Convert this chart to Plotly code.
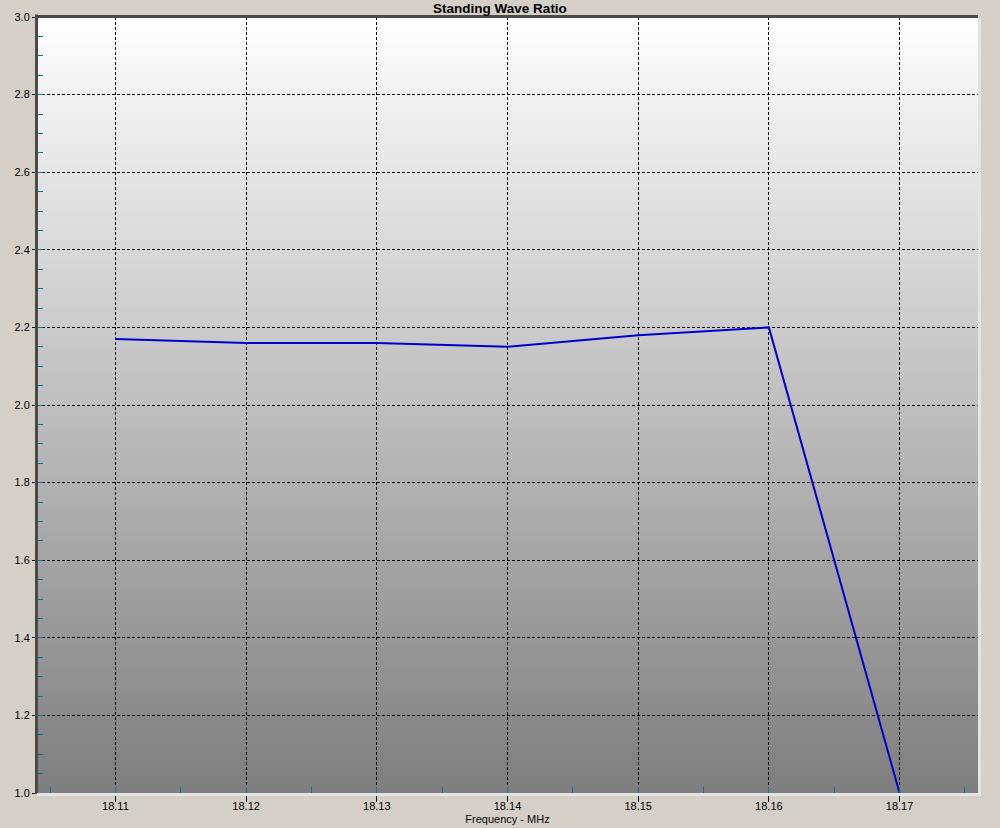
import base64, struct, zlib
import plotly.graph_objects as go

# Data
freq_mhz = [18.11, 18.12, 18.13, 18.14, 18.15, 18.16, 18.17]
swr = [2.17, 2.16, 2.16, 2.15, 2.18, 2.20, 1.00]
x_ticks = [18.11, 18.12, 18.13, 18.14, 18.15, 18.16, 18.17]
x_ticklabels = ["18.11", "18.12", "18.13", "18.14", "18.15", "18.16", "18.17"]
y_ticks = [1.0, 1.2, 1.4, 1.6, 1.8, 2.0, 2.2, 2.4, 2.6, 2.8, 3.0]
y_ticklabels = ["1.0", "1.2", "1.4", "1.6", "1.8", "2.0", "2.2", "2.4", "2.6", "2.8", "3.0"]


def gradient_png(h=256, top=255, bottom=126):
    rows = b""
    for i in range(h):
        v = round(top + (bottom - top) * i / (h - 1))
        rows += b"\x00" + bytes([v, v, v])
    def chunk(t, d):
        c = struct.pack(">I", len(d)) + t + d
        return c + struct.pack(">I", zlib.crc32(t + d) & 0xffffffff)
    png = b"\x89PNG\r\n\x1a\n"
    png += chunk(b"IHDR", struct.pack(">IIBBBBB", 1, h, 8, 2, 0, 0, 0))
    png += chunk(b"IDAT", zlib.compress(rows))
    png += chunk(b"IEND", b"")
    return "data:image/png;base64," + base64.b64encode(png).decode()


W, H = 1000, 828
L, R, T, B = 37, 22, 17, 35
pw, ph = W - L - R, H - T - B

def px(dx):
    return dx / pw

def py(dy):
    return dy / ph

fig = go.Figure()
fig.add_trace(go.Scatter(x=freq_mhz, y=swr, mode="lines",
                         line=dict(color="#0000CC", width=2), hoverinfo="skip"))

font = dict(family="Liberation Sans, Arial, sans-serif", size=11, color="#000000")

fig.update_layout(
    width=W, height=H,
    margin=dict(l=L, r=R, t=T, b=B, pad=0, autoexpand=False),
    paper_bgcolor="#D4D0C8",
    plot_bgcolor="rgba(0,0,0,0)",
    showlegend=False,
    font=font,
    title=dict(text="<b>Standing Wave Ratio</b>", x=0.5, xanchor="center",
               y=1 - 8.5 / H, yanchor="middle",
               font=dict(family="Liberation Sans, Arial, sans-serif", size=13.5, color="#000000")),
    images=[dict(source=gradient_png(), xref="paper", yref="paper", x=0, y=1,
                 sizex=1, sizey=1, sizing="stretch", xanchor="left", yanchor="top",
                 layer="below")],
    xaxis=dict(range=[18.104, 18.176], tickvals=x_ticks, ticktext=x_ticklabels,
               showgrid=True, gridcolor="#000000", gridwidth=1, griddash="3px,2px",
               zeroline=False, showline=False, automargin=False,
               ticks="outside", ticklen=8, tickcolor="#000000", tickwidth=1,
               ticklabelstandoff=-5,
               minor=dict(dtick=0.005, tick0=18.105, ticks="inside", ticklen=6,
                          tickcolor="#008080", tickwidth=1, showgrid=False),
               title=dict(text="Frequency - MHz", standoff=4, font=font),
               fixedrange=True),
    yaxis=dict(range=[1.0, 3.0], tickvals=y_ticks, ticktext=y_ticklabels,
               showgrid=True, gridcolor="#000000", gridwidth=1, griddash="3px,2px",
               zeroline=False, showline=False, automargin=False,
               ticks="outside", ticklen=4, tickcolor="#000000", tickwidth=1,
               minor=dict(dtick=0.05, tick0=1.0, ticks="inside", ticklen=6,
                          tickcolor="#008080", tickwidth=1, showgrid=False),
               fixedrange=True),
    shapes=[
        # sunken 3D border: dark left/top, light right/bottom
        dict(type="line", xref="paper", yref="paper", layer="above",
             x0=px(-0.5), x1=px(-0.5), y0=py(-1), y1=1 + py(2.5),
             line=dict(color="#4A4A4A", width=3)),
        dict(type="line", xref="paper", yref="paper", layer="above",
             x0=px(-2), x1=1, y0=1 + py(0.5), y1=1 + py(0.5),
             line=dict(color="#4A4A4A", width=3)),
        dict(type="line", xref="paper", yref="paper", layer="above",
             x0=1 + px(1.5), x1=1 + px(1.5), y0=py(-3), y1=1 + py(-1),
             line=dict(color="#E4E4E4", width=3)),
        dict(type="line", xref="paper", yref="paper", layer="above",
             x0=0, x1=1 + px(3), y0=py(-1.5), y1=py(-1.5),
             line=dict(color="#E4E4E4", width=3)),
    ],
)

fig.write_html(
    "out.html",
    config={"displayModeBar": False},
    post_script="document.body.style.margin='0';document.body.style.padding='0';"
                "document.body.style.background='#D4D0C8';",
)
